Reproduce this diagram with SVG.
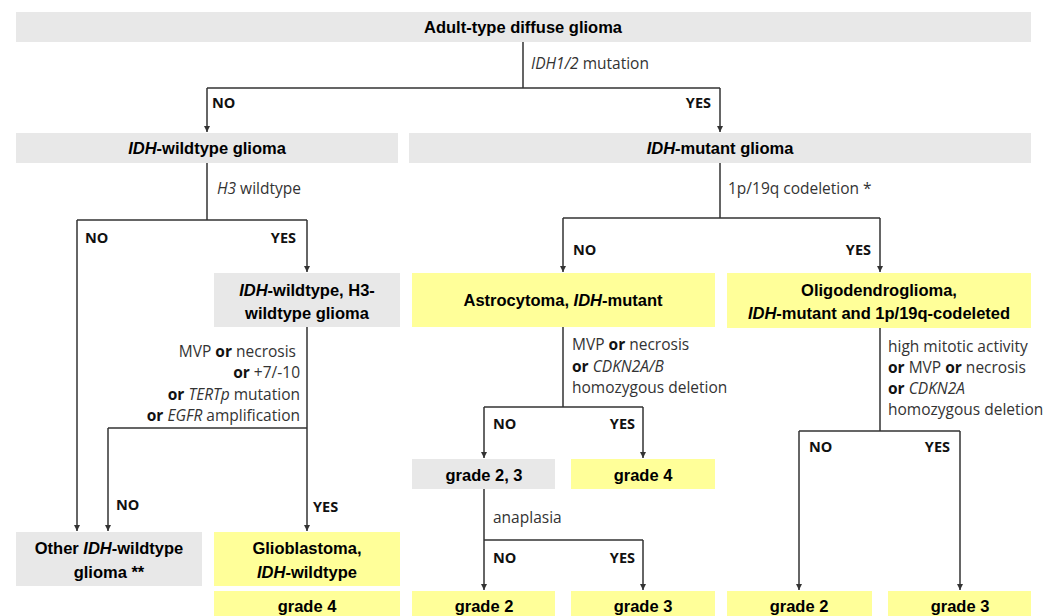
<svg xmlns="http://www.w3.org/2000/svg" width="1056" height="616" viewBox="0 0 1056 616">
<style>
.g{fill:#e8e8e8}
.y{fill:#ffff99}
.bl{font-family:"Liberation Sans",Arial,sans-serif;font-weight:bold;font-size:16.5px;fill:#000;text-anchor:middle}
.c{font-family:"Open Sans",sans-serif;font-size:15.5px;fill:#333}
.yn{font-family:"Open Sans",sans-serif;font-weight:bold;font-size:14.5px;fill:#111}
.b{font-weight:bold;fill:#111}
.i{font-style:italic}
.ln{fill:none;stroke:#333;stroke-width:1.5}
</style>
<defs>
<marker id="ah" markerWidth="6" markerHeight="6" refX="6" refY="3" orient="auto" markerUnits="userSpaceOnUse">
<path d="M0,0 L6,3 L0,6 z" fill="#333"/>
</marker>
</defs>
<rect width="1056" height="616" fill="#fff"/>

<g id="connectors">
<path class="ln" d="M523,42 V88 M207,88 H720"/>
<path class="ln" d="M207,88 V132" marker-end="url(#ah)"/>
<path class="ln" d="M720,88 V132" marker-end="url(#ah)"/>
<path class="ln" d="M207,163 V220 M77,220 H307"/>
<path class="ln" d="M77,220 V531" marker-end="url(#ah)"/>
<path class="ln" d="M307,220 V272" marker-end="url(#ah)"/>
<path class="ln" d="M307,327 V428 M108,428 H307"/>
<path class="ln" d="M108,428 V531" marker-end="url(#ah)"/>
<path class="ln" d="M307,428 V531" marker-end="url(#ah)"/>
<path class="ln" d="M720,163 V218 M563,218 H880"/>
<path class="ln" d="M563,218 V272" marker-end="url(#ah)"/>
<path class="ln" d="M880,218 V272" marker-end="url(#ah)"/>
<path class="ln" d="M563,327 V407 M484,407 H643"/>
<path class="ln" d="M484,407 V458" marker-end="url(#ah)"/>
<path class="ln" d="M643,407 V458" marker-end="url(#ah)"/>
<path class="ln" d="M484,489 V540 M484,540 H643"/>
<path class="ln" d="M484,540 V590" marker-end="url(#ah)"/>
<path class="ln" d="M643,540 V590" marker-end="url(#ah)"/>
<path class="ln" d="M880,328 V431 M799,431 H960"/>
<path class="ln" d="M799,431 V590" marker-end="url(#ah)"/>
<path class="ln" d="M960,431 V590" marker-end="url(#ah)"/>
</g>

<g id="labels">
<text class="c" x="531" y="69"><tspan class="i">IDH1/2</tspan> mutation</text>
<text class="yn" x="212" y="108">NO</text>
<text class="yn" x="711" y="108" text-anchor="end">YES</text>
<text class="c" x="217" y="194"><tspan class="i">H3</tspan> wildtype</text>
<text class="c" x="728" y="194">1p/19q codeletion *</text>
<text class="yn" x="85" y="243">NO</text>
<text class="yn" x="296" y="243" text-anchor="end">YES</text>
<text class="yn" x="573" y="255">NO</text>
<text class="yn" x="871" y="255" text-anchor="end">YES</text>
<text class="c" text-anchor="end"><tspan x="296" y="357">MVP <tspan class="b">or</tspan> necrosis</tspan><tspan x="300" y="378"><tspan class="b">or</tspan> +7/-10</tspan><tspan x="300" y="400"><tspan class="b">or</tspan> <tspan class="i">TERTp</tspan> mutation</tspan><tspan x="300" y="421"><tspan class="b">or</tspan> <tspan class="i">EGFR</tspan> amplification</tspan></text>
<text class="c"><tspan x="572" y="350">MVP <tspan class="b">or</tspan> necrosis</tspan><tspan x="572" y="372"><tspan class="b">or</tspan> <tspan class="i">CDKN2A/B</tspan></tspan><tspan x="572" y="393">homozygous deletion</tspan></text>
<text class="c"><tspan x="888" y="352">high mitotic activity</tspan><tspan x="888" y="373"><tspan class="b">or</tspan> MVP <tspan class="b">or</tspan> necrosis</tspan><tspan x="888" y="394"><tspan class="b">or</tspan> <tspan class="i">CDKN2A</tspan></tspan><tspan x="888" y="415">homozygous deletion</tspan></text>
<text class="yn" x="493" y="429">NO</text>
<text class="yn" x="635" y="429" text-anchor="end">YES</text>
<text class="yn" x="809" y="452">NO</text>
<text class="yn" x="950" y="452" text-anchor="end">YES</text>
<text class="yn" x="116" y="510">NO</text>
<text class="yn" x="313" y="512">YES</text>
<text class="c" x="493" y="523">anaplasia</text>
<text class="yn" x="493" y="563">NO</text>
<text class="yn" x="635" y="563" text-anchor="end">YES</text>
</g>

<g id="n-root"><rect class="g" x="16" y="12" width="1015" height="30"/><text class="bl" x="523" y="33">Adult-type diffuse glioma</text></g>
<g id="n-idhwt"><rect class="g" x="16" y="133" width="382" height="30"/><text class="bl" x="207" y="154"><tspan class="i">IDH</tspan>-wildtype glioma</text></g>
<g id="n-idhmut"><rect class="g" x="409" y="133" width="622" height="30"/><text class="bl" x="720" y="154"><tspan class="i">IDH</tspan>-mutant glioma</text></g>
<g id="n-h3wt"><rect class="g" x="214" y="273" width="186" height="54"/><text class="bl"><tspan x="307" y="296"><tspan class="i">IDH</tspan>-wildtype, H3-</tspan><tspan x="307" y="319">wildtype glioma</tspan></text></g>
<g id="n-astro"><rect class="y" x="412" y="273" width="303" height="54"/><text class="bl" x="563" y="306">Astrocytoma, <tspan class="i">IDH</tspan>-mutant</text></g>
<g id="n-oligo"><rect class="y" x="727" y="273" width="304" height="55"/><text class="bl"><tspan x="879" y="296">Oligodendroglioma,</tspan><tspan x="879" y="319"><tspan class="i">IDH</tspan>-mutant and 1p/19q-codeleted</tspan></text></g>
<g id="n-astro-g23"><rect class="g" x="412" y="459" width="143" height="30"/><text class="bl" x="484" y="481">grade 2, 3</text></g>
<g id="n-astro-g4"><rect class="y" x="571" y="459" width="144" height="30"/><text class="bl" x="643" y="481">grade 4</text></g>
<g id="n-other"><rect class="g" x="16" y="532" width="186" height="54"/><text class="bl"><tspan x="109" y="554">Other <tspan class="i">IDH</tspan>-wildtype</tspan><tspan x="109" y="578">glioma **</tspan></text></g>
<g id="n-gbm"><rect class="y" x="214" y="532" width="186" height="54"/><text class="bl"><tspan x="307" y="554">Glioblastoma,</tspan><tspan x="307" y="578"><tspan class="i">IDH</tspan>-wildtype</tspan></text></g>
<g id="n-gbm-g4"><rect class="y" x="214" y="591" width="186" height="30"/><text class="bl" x="307" y="612">grade 4</text></g>
<g id="n-astro-g2"><rect class="y" x="412" y="591" width="143" height="30"/><text class="bl" x="484" y="612">grade 2</text></g>
<g id="n-astro-g3"><rect class="y" x="571" y="591" width="144" height="30"/><text class="bl" x="643" y="612">grade 3</text></g>
<g id="n-oligo-g2"><rect class="y" x="727" y="591" width="145" height="30"/><text class="bl" x="799" y="612">grade 2</text></g>
<g id="n-oligo-g3"><rect class="y" x="888" y="591" width="143" height="30"/><text class="bl" x="960" y="612">grade 3</text></g>
</svg>
